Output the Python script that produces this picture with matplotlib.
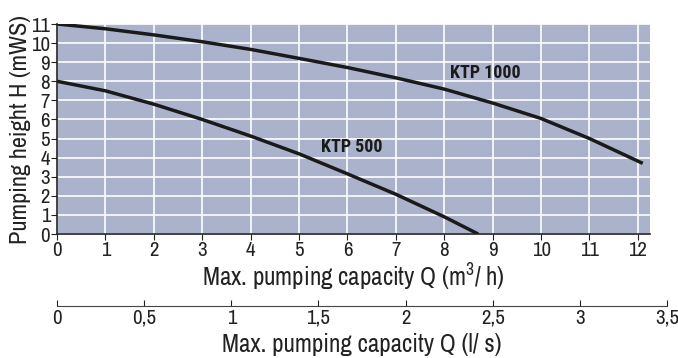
import matplotlib.pyplot as plt
from matplotlib import font_manager

# pick a narrow sans, close to the condensed Helvetica of the original
flist = font_manager.fontManager.ttflist
names = {f.name for f in flist}
narrow = ['Archivo Narrow', 'Roboto Condensed', 'PT Sans Narrow', 'Open Sans Condensed']
fam = next((n for n in narrow if n in names), 'DejaVu Sans')


def heavy(f):
    w = f.weight
    return (w >= 600) if isinstance(w, int) else w in ('bold', 'semibold', 'demibold', 'heavy', 'black')


bold_fam = next((n for n in narrow + ['Barlow Condensed', 'Fira Sans Condensed']
                 if any(f.name == n and heavy(f) for f in flist)), fam)

plt.rcParams['font.family'] = [fam, 'DejaVu Sans']
plt.rcParams['mathtext.fontset'] = 'custom'
plt.rcParams['mathtext.rm'] = fam

# Q in m3/h, H in mWS
q_500 = [0, 1, 2, 3, 4, 5, 6, 7, 8, 8.7]
h_500 = [8.0, 7.5, 6.8, 6.0, 5.13, 4.2, 3.15, 2.08, 0.9, 0.0]
q_1000 = [0, 1, 2, 3, 4, 5, 6, 7, 8, 9, 10, 11, 12.1]
h_1000 = [11.0, 10.75, 10.43, 10.07, 9.67, 9.2, 8.72, 8.18, 7.59, 6.86, 6.05, 5.0, 3.7]

x_ticks = list(range(13))
y_ticks = list(range(12))
ls_ticks = [0, 0.5, 1, 1.5, 2, 2.5, 3, 3.5]
ls_labels = ['0', '0,5', '1', '1,5', '2', '2,5', '3', '3,5']

ink = '#222222'
fig = plt.figure(figsize=(6.78, 3.58), dpi=100)
ax = fig.add_axes([57/678, 1-234/358, (650-57)/678, (234-24)/358])
ax.set_facecolor('#aab3cb')
ax.set_xlim(0, 12.25)
ax.set_ylim(0, 11)
ax.set_xticks(x_ticks)
ax.set_yticks(y_ticks)
ax.grid(True, color='white', linewidth=1.2)
ax.set_axisbelow(True)
for s in ['top', 'right']:
    ax.spines[s].set_visible(False)
for s in ['left', 'bottom']:
    ax.spines[s].set_color(ink)
    ax.spines[s].set_linewidth(1.2)
ax.tick_params(direction='out', length=4, labelsize=15, colors=ink, pad=1)

ax.plot(q_1000, h_1000, color='#1a1a1a', linewidth=2.5, solid_capstyle='butt')
ax.plot(q_500, h_500, color='#1a1a1a', linewidth=2.5, solid_capstyle='butt')
ax.text(8.12, 8.43, 'KTP 1000', fontsize=13, fontweight='bold', family=bold_fam,
        va='center', ha='left', color='#1a1a1a')
ax.text(5.45, 4.55, 'KTP 500', fontsize=13, fontweight='bold', family=bold_fam,
        va='center', ha='left', color='#1a1a1a')

ax.set_xlabel('Max. pumping capacity Q (m$^3$/ h)', fontsize=18, labelpad=1, color=ink)
ax.set_ylabel('Pumping height H (mWS)', fontsize=17.5, labelpad=0, color=ink)

# second scale in l/s (1 l/s = 3.6 m3/h)
ax2 = fig.add_axes([57/678, 1-306/358, (667-57)/678, 0.001])
ax2.set_xlim(0, 3.5)
ax2.set_yticks([])
ax2.set_facecolor('none')
for s in ['top', 'right', 'left']:
    ax2.spines[s].set_visible(False)
ax2.spines['bottom'].set_color('#444444')
ax2.set_xticks(ls_ticks)
ax2.set_xticklabels(ls_labels)
ax2.tick_params(direction='in', length=4, labelsize=15, colors=ink, pad=2)
ax2.set_xlabel('Max. pumping capacity Q (l/ s)', fontsize=18, labelpad=4, color=ink)

fig.savefig('out.png', dpi=100)
